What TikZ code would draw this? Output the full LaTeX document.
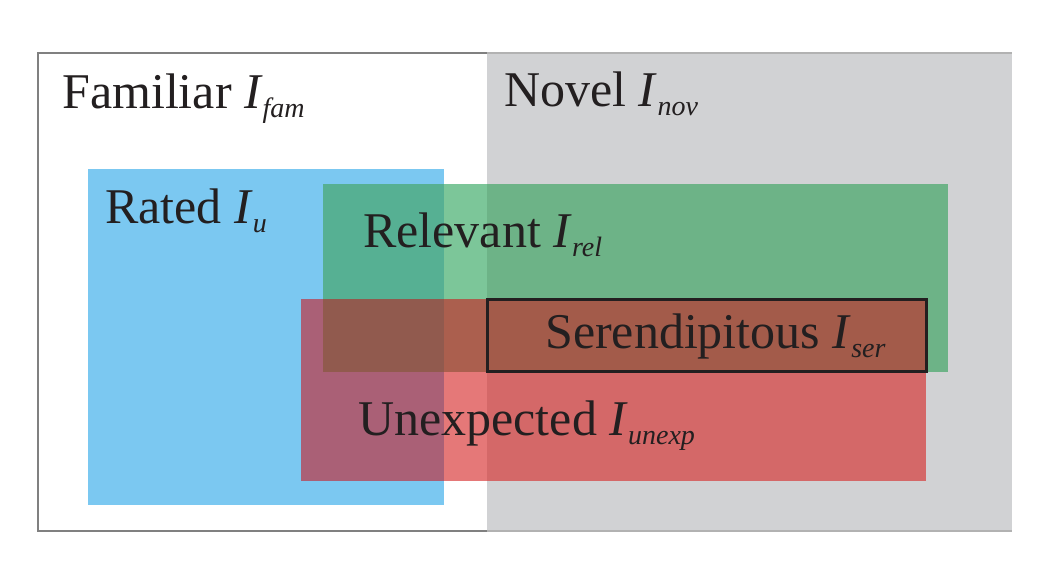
\documentclass[tikz,border=0pt]{standalone}
\usepackage{fontspec}
\setmainfont{Liberation Serif}
\definecolor{cgray}{HTML}{D1D2D4}
\definecolor{cblue}{HTML}{7BC8F1}
\definecolor{cgw}{HTML}{7CC699}
\definecolor{cgb}{HTML}{56B093}
\definecolor{cgg}{HTML}{6DB387}
\definecolor{crw}{HTML}{E57878}
\definecolor{crb}{HTML}{AA6076}
\definecolor{crg}{HTML}{D46868}
\definecolor{crgb}{HTML}{915A4E}
\definecolor{crgw}{HTML}{AB5F4E}
\definecolor{crgg}{HTML}{A35B4A}
\definecolor{ctext}{HTML}{231F20}
\newcommand{\subtxt}[1]{\raisebox{-9pt}{\fontsize{28}{28}\selectfont\itshape #1}}
\tikzset{
  lbl/.style={anchor=base west, inner sep=0pt, text=ctext, font=\fontsize{50}{56}\selectfont},
  region/.style={draw=none}
}
\begin{document}
\begin{tikzpicture}[x=1pt,y=-1pt]
\useasboundingbox (0,0) rectangle (1056,570);
% universe
\fill[white] (38,53) rectangle (1012,531);
\fill[cgray] (487,53) rectangle (1012,531);
\draw[color=black!50, line width=1.2pt] (487,53) -- (38,53) -- (38,531) -- (487,531);
\draw[color=black!30, line width=1.2pt] (487,53) -- (1012,53);
\draw[color=black!30, line width=1.2pt] (487,531) -- (1012,531);
% rated
\fill[cblue] (88,169) rectangle (444,505);
% relevant
\fill[cgw] (323,184) rectangle (948,372);
\fill[cgb] (323,184) rectangle (444,372);
\fill[cgg] (487,184) rectangle (948,372);
% unexpected
\fill[crw] (301,299) rectangle (926,481);
\fill[crb] (301,299) rectangle (444,481);
\fill[crg] (487,299) rectangle (926,481);
% relevant and unexpected
\fill[crgb] (323,299) rectangle (444,372);
\fill[crgw] (444,299) rectangle (487,372);
\fill[crgg] (487,299) rectangle (926,372);
% serendipitous box
\node[draw=ctext, line width=3pt, inner sep=0pt, outer sep=0pt, minimum width=439pt, minimum height=71.5pt, anchor=north west] (serbox) at (487.5,299.5) {};
% labels
\node[lbl] (fam) at (62,108) {Familiar \textit{I}\subtxt{fam}};
\node[lbl] (nov) at (504,106) {Novel \textit{I}\subtxt{nov}};
\node[lbl] (rat) at (105,223) {Rated \textit{I}\subtxt{u}};
\node[lbl] (rel) at (363,247) {Relevant \textit{I}\subtxt{rel}};
\node[lbl] (ser) at (545,348) {Serendipitous \textit{I}\subtxt{ser}};
\node[lbl] (une) at (358,435) {Unexpected \textit{I}\subtxt{unexp}};
\end{tikzpicture}
\end{document}
